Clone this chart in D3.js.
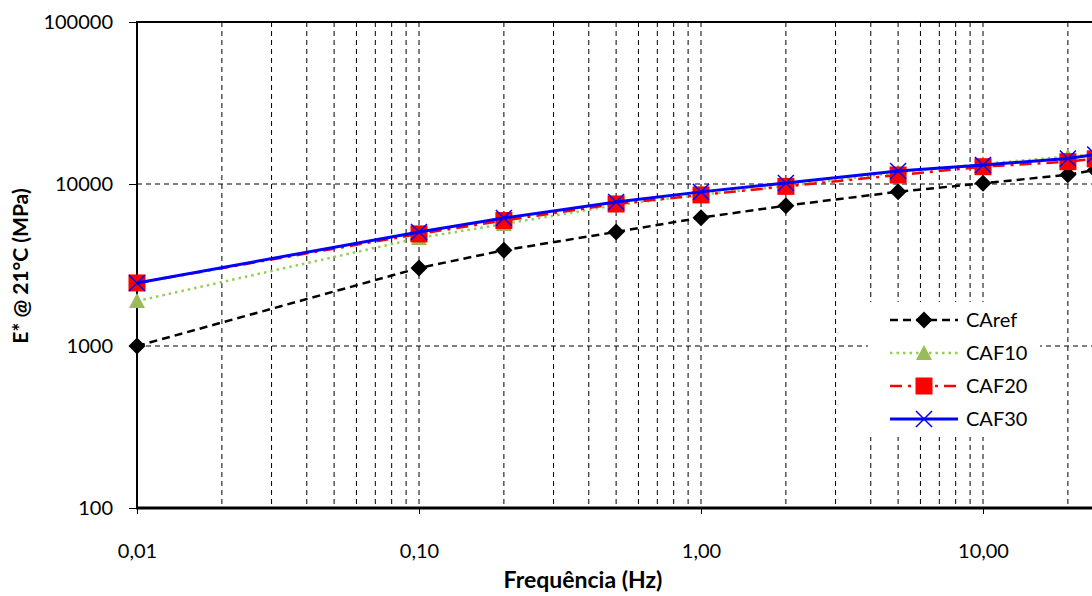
<!DOCTYPE html>
<html>
<head>
<meta charset="utf-8">
<script src="https://cdn.jsdelivr.net/npm/d3@7"></script>
<style>
  html, body { margin: 0; padding: 0; background: #fff; overflow: hidden; }
  svg { display: block; }
  text { font-family: Lato, "Open Sans", sans-serif; }
</style>
</head>
<body>
<svg id="chart" width="1092" height="596"></svg>
<script>
// ---- data ----
const freqs = [0.01, 0.1, 0.2, 0.5, 1, 2, 5, 10, 20, 25];
const CAref = [1000, 3030, 3900, 5060, 6200, 7350, 8960, 10100, 11400, 12200];
const CAF10 = [1895, 4640, 5660, 7400, 8600, 9700, 11800, 13300, 14800, 15300];
const CAF20 = [2450, 4920, 5950, 7530, 8560, 9670, 11360, 12790, 13730, 14300];
const CAF30 = [2450, 5060, 6170, 7740, 8940, 10150, 12030, 13100, 14380, 15200];
const seriesNames = ["CAref", "CAF10", "CAF20", "CAF30"];
const xTickValues = [0.01, 0.1, 1, 10];
const yTickValues = [100, 1000, 10000, 100000];
const xTitle = "Frequência (Hz)";
const yTitle = "E* @ 21°C (MPa)";

// ---- layout ----
const svg = d3.select("#chart");
const pLeft = 137, pTop = 22, pBottom = 508, decade = 282;
const x = d3.scaleLog().domain([0.01, 100]).range([pLeft, pLeft + 4 * decade]);
const y = d3.scaleLog().domain([100, 100000]).range([pBottom, pTop]);

// grid
const grid = svg.append("g");
const minorX = x.ticks().filter(v => v > 0.0100001);
grid.selectAll("line.vx").data(minorX).join("line")
  .attr("x1", d => x(d)).attr("x2", d => x(d))
  .attr("y1", pTop).attr("y2", pBottom)
  .attr("stroke", "#000").attr("stroke-width", 1)
  .attr("stroke-dasharray", "5,4");
grid.selectAll("line.hy").data([1000, 10000]).join("line")
  .attr("x1", pLeft).attr("x2", 1092)
  .attr("y1", d => y(d)).attr("y2", d => y(d))
  .attr("stroke", "#000").attr("stroke-width", 1)
  .attr("stroke-dasharray", "5,4");

// top border
svg.append("line").attr("x1", pLeft).attr("x2", 1092).attr("y1", y(100000)).attr("y2", y(100000))
  .attr("stroke", "#000").attr("stroke-width", 2);

// axes
const fmtX = d => d.toFixed(2).replace(".", ",");
const gx = svg.append("g").attr("transform", `translate(0,${pBottom})`)
  .call(d3.axisBottom(x).tickValues(xTickValues).tickFormat(fmtX).tickSize(6).tickPadding(30));
gx.select(".domain").remove();
gx.selectAll("text").attr("font-size", 20).attr("fill", "#000");
gx.selectAll("line").attr("stroke", "#000");

const gy = svg.append("g").attr("transform", `translate(${pLeft},0)`)
  .call(d3.axisLeft(y).tickValues(yTickValues).tickFormat(d3.format("d")).tickSize(8).tickPadding(16));
gy.select(".domain").remove();
gy.selectAll("text").attr("font-size", 20).attr("fill", "#000");
gy.selectAll("line").attr("stroke", "#000");

svg.append("line").attr("x1", pLeft).attr("x2", pLeft).attr("y1", pTop - 1).attr("y2", pBottom)
  .attr("stroke", "#000").attr("stroke-width", 2);
svg.append("line").attr("x1", pLeft - 1).attr("x2", 1092).attr("y1", pBottom).attr("y2", pBottom)
  .attr("stroke", "#000").attr("stroke-width", 3);

// titles
svg.append("text").attr("x", 583).attr("y", 588).attr("text-anchor", "middle")
  .attr("font-size", 23).attr("font-weight", "bold").text(xTitle);
svg.append("text").attr("transform", "translate(28,266) rotate(-90)").attr("text-anchor", "middle")
  .attr("font-size", 21).attr("font-weight", "bold").text(yTitle);

// series
const styles = {
  CAref: { data: CAref, color: "#000", width: 2.5, dash: "8,5", marker: "diamond", mcolor: "#000" },
  CAF10: { data: CAF10, color: "#92D050", width: 2.5, dash: "2.5,4", marker: "triangle", mcolor: "#9BBB59" },
  CAF20: { data: CAF20, color: "#FF0000", width: 2.5, dash: "12,6,3,6", marker: "square", mcolor: "#FF0000" },
  CAF30: { data: CAF30, color: "#0000FF", width: 3, dash: null, marker: "x", mcolor: "#0000FF" }
};

function drawMarker(g, type, cx, cy, color) {
  if (type === "diamond") {
    g.append("path").attr("d", `M${cx},${cy-8.5}L${cx+8.5},${cy}L${cx},${cy+8.5}L${cx-8.5},${cy}Z`).attr("fill", color);
  } else if (type === "triangle") {
    g.append("path").attr("d", `M${cx},${cy-8}L${cx+8},${cy+7}L${cx-8},${cy+7}Z`).attr("fill", color);
  } else if (type === "square") {
    g.append("rect").attr("x", cx - 8.5).attr("y", cy - 8.5).attr("width", 17).attr("height", 17).attr("fill", color);
  } else if (type === "x") {
    g.append("path").attr("d", `M${cx-8},${cy-8}L${cx+8},${cy+8}M${cx-8},${cy+8}L${cx+8},${cy-8}`)
      .attr("stroke", color).attr("stroke-width", 1.5).attr("fill", "none");
  }
}

const line = d3.line().x(d => x(d[0])).y(d => y(d[1]));
seriesNames.forEach(name => {
  const s = styles[name];
  const pts = freqs.map((f, i) => [f, s.data[i]]);
  const g = svg.append("g");
  g.append("path").attr("d", line(pts)).attr("fill", "none")
    .attr("stroke", s.color).attr("stroke-width", s.width)
    .attr("stroke-dasharray", s.dash);
  pts.forEach(p => drawMarker(g, s.marker, x(p[0]), y(p[1]), s.mcolor));
});

// legend
const lg = svg.append("g");
lg.append("rect").attr("x", 868).attr("y", 302).attr("width", 172).attr("height", 135).attr("fill", "#fff");
seriesNames.forEach((name, i) => {
  const s = styles[name];
  const cy = 320 + i * 33;
  lg.append("line").attr("x1", 890).attr("x2", 958).attr("y1", cy).attr("y2", cy)
    .attr("stroke", s.color).attr("stroke-width", s.width).attr("stroke-dasharray", s.dash);
  drawMarker(lg, s.marker, 924, cy, s.mcolor);
  lg.append("text").attr("x", 966).attr("y", cy).attr("dy", "0.35em")
    .attr("font-size", 20).text(name);
});
</script>
</body>
</html>
